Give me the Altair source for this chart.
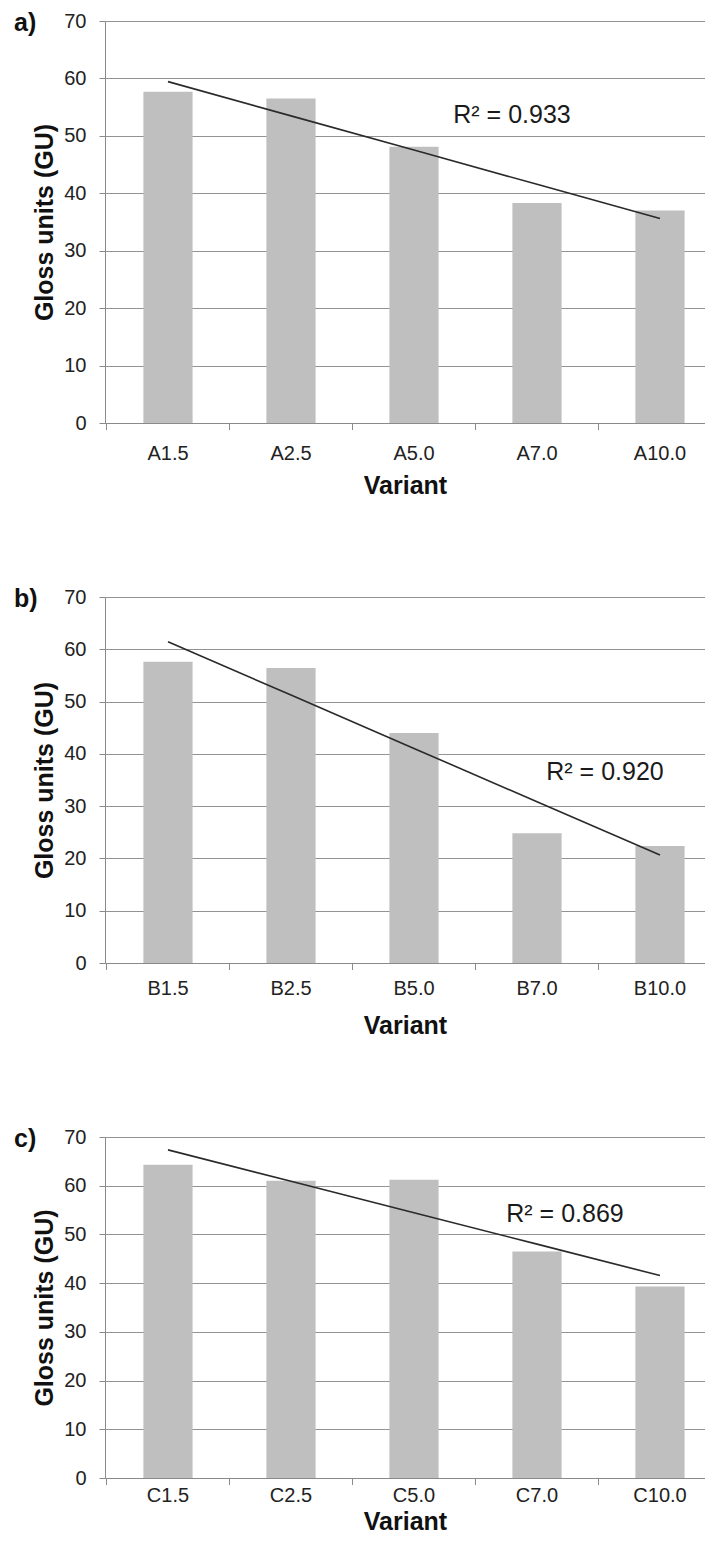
import altair as alt
import numpy as np
import pandas as pd

# ---- data ----
cats_a = ["A1.5", "A2.5", "A5.0", "A7.0", "A10.0"]
vals_a = [57.7, 56.5, 48.1, 38.3, 37.0]
cats_b = ["B1.5", "B2.5", "B5.0", "B7.0", "B10.0"]
vals_b = [57.6, 56.4, 44.0, 24.8, 22.4]
cats_c = ["C1.5", "C2.5", "C5.0", "C7.0", "C10.0"]
vals_c = [64.3, 61.0, 61.2, 46.5, 39.3]

panel_labels = ["a)", "b)", "c)"]
r2_texts = ["R² = 0.933", "R² = 0.920", "R² = 0.869"]
r2_anchor_cat = ["A7.0", "B7.0", "C7.0"]
r2_anchor_val = [53.7, 36.5, 54.2]
y_ticks = [0, 10, 20, 30, 40, 50, 60, 70]

FONT = "Liberation Sans"
GRID = "#939393"
AXC = "#8a8a8a"
W = 600
P_INNER, P_OUTER, ALIGN = 0.6, 0.239, 0.653
STEP = W / (5 - P_INNER + 2 * P_OUTER)


def panel(cats, vals, lab, r2t, r2cat, r2val, r2dx, height, lab_pad, title_pad):
    idx = np.arange(1, len(vals) + 1)
    slope, icpt = np.polyfit(idx, np.array(vals), 1)
    df = pd.DataFrame({"Variant": cats, "GU": vals, "fit": icpt + slope * idx})

    xscale = alt.Scale(paddingInner=P_INNER, paddingOuter=P_OUTER, align=ALIGN)
    x = alt.X(
        "Variant:N",
        sort=cats,
        scale=xscale,
        axis=alt.Axis(
            title="Variant",
            labelAngle=0,
            grid=False,
            ticks=False,
            labelPadding=7 + lab_pad,
            titlePadding=title_pad,
        ),
    )
    yscale = alt.Scale(domain=[0, 70], nice=False)
    y = alt.Y(
        "GU:Q",
        scale=yscale,
        axis=alt.Axis(
            title="Gloss units (GU)",
            values=y_ticks,
            grid=True,
            tickSize=6,
            labelPadding=13,
            titlePadding=6,
        ),
    )

    base = alt.Chart(df)
    bars = base.mark_bar(color="#bfbfbf").encode(x=x, y=y)
    # category-boundary tick marks below the x axis
    ticks = base.mark_rule(color=AXC, strokeWidth=1, xOffset=-STEP * P_INNER / 2).encode(
        x=alt.X("Variant:N", sort=cats, bandPosition=0),
        y=alt.value(height),
        y2=alt.value(height + 7),
    )
    line = base.mark_line(color="#2a2a2a", strokeWidth=1.6).encode(
        x=alt.X("Variant:N", sort=cats), y=alt.Y("fit:Q", scale=yscale)
    )
    r2 = alt.Chart(
        pd.DataFrame({"Variant": [r2cat], "GU": [r2val], "t": [r2t]})
    ).mark_text(
        font=FONT, fontSize=25, color="#1a1a1a", align="center", baseline="middle", dx=r2dx
    ).encode(
        x=alt.X("Variant:N", sort=cats),
        y=alt.Y("GU:Q", scale=yscale),
        text="t:N",
    )
    plab = alt.Chart(pd.DataFrame({"lab": [lab]})).mark_text(
        font=FONT, fontSize=25, fontWeight="bold", color="#111111",
        align="left", baseline="top",
    ).encode(x=alt.value(-91), y=alt.value(-10.5), text="lab:N")

    return alt.layer(bars, ticks, line, r2, plab).properties(width=W, height=height)


pa = panel(cats_a, vals_a, panel_labels[0], r2_texts[0], r2_anchor_cat[0], r2_anchor_val[0], -25, 402, 13, 10)
pb = panel(cats_b, vals_b, panel_labels[1], r2_texts[1], r2_anchor_cat[1], r2_anchor_val[1], 68, 366, 8, 15)
pc = panel(cats_c, vals_c, panel_labels[2], r2_texts[2], r2_anchor_cat[2], r2_anchor_val[2], 28, 341, 0, 4)

chart = (
    alt.vconcat(pa, pb, pc, spacing=174, bounds="flush")
    .properties(padding={"left": 6, "top": 2, "right": 0, "bottom": 0}, background="white")
    .configure_view(stroke=None)
    .configure_axis(
        labelFont=FONT,
        labelFontSize=20,
        labelColor="#222222",
        titleFont=FONT,
        titleFontSize=25,
        titleFontWeight="bold",
        titleColor="#111111",
        domainColor=AXC,
        tickColor=AXC,
        gridColor=GRID,
        gridWidth=1,
    )
)

chart.save("out.html", embed_options={"renderer": "svg", "actions": False})
